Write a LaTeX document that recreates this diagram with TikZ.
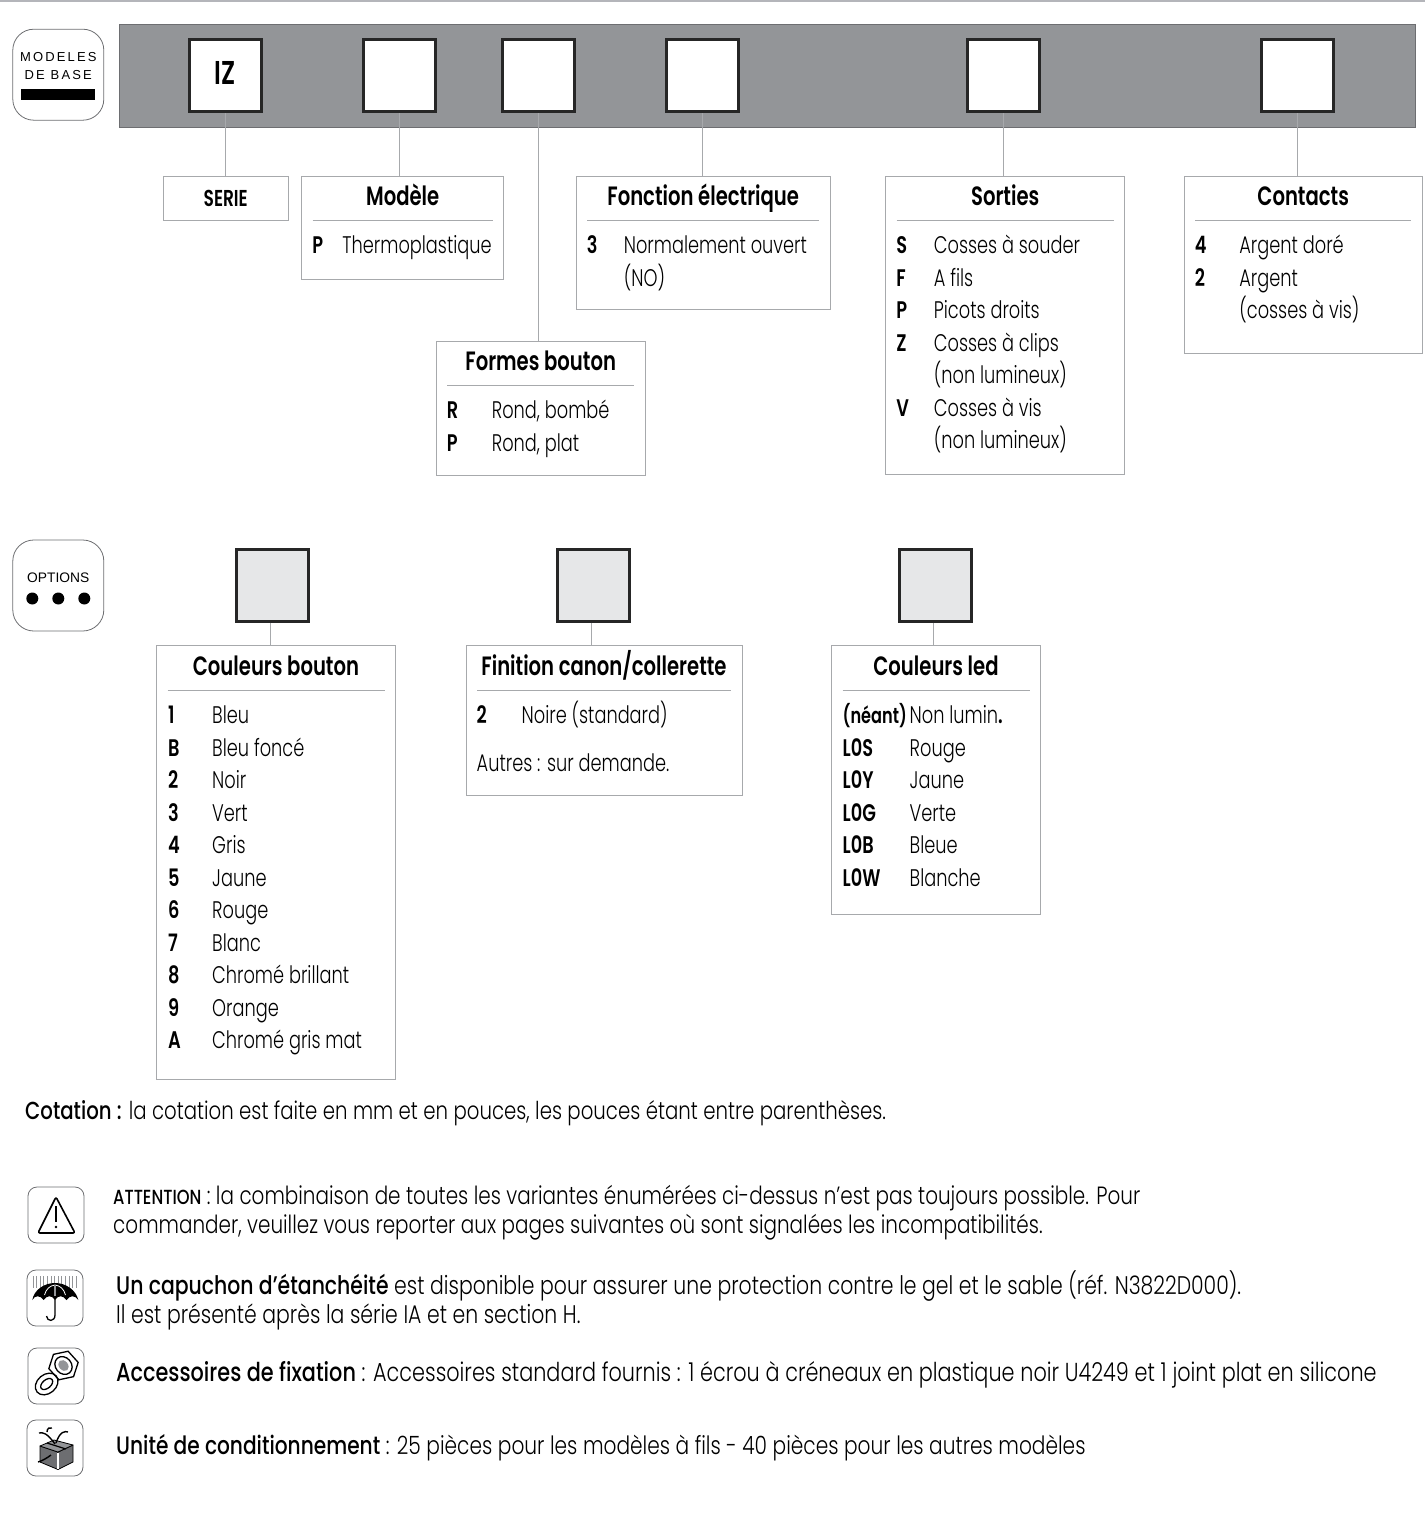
\documentclass[tikz,border=0pt]{standalone}
\usepackage{fontspec}
\usepackage{array}
\usepackage{xcolor}
\usetikzlibrary{positioning,shapes.geometric}
\setmainfont{Poppins}[UprightFont=* Light,BoldFont=* Medium,FakeStretch=0.80]
\newfontfamily\panelfont{Poppins}[UprightFont=* Light,BoldFont=* SemiBold,FakeStretch=0.74]
\newfontfamily\tagfont{Liberation Sans}
\definecolor{bandgray}{HTML}{939598}
\definecolor{bandedge}{HTML}{6D6E71}
\definecolor{optgray}{HTML}{E6E7E8}
\definecolor{wiregray}{HTML}{A7A9AC}
\definecolor{rulegray}{HTML}{B4B5BA}

\begin{document}
\begin{tikzpicture}[
    x=1pt,y=-1pt,
    node distance=64pt,
    keybox/.style={draw=black!85,line width=3pt,fill=white,minimum width=72pt,minimum height=72pt,inner sep=0pt,font=\panelfont\fontsize{33}{36}\selectfont\bfseries},
    optbox/.style={keybox,fill=optgray},
    panel/.style={draw=wiregray,line width=1pt,inner sep=0pt,outer sep=0pt},
    heading/.style={inner sep=0pt,anchor=center,text height=22pt,text depth=4pt,font=\panelfont\fontsize{26.5}{30}\selectfont\bfseries},
    rows/.style={inner sep=0pt,anchor=north west,font=\panelfont\fontsize{24}{32.5}\selectfont},
    tagbox/.style={draw=bandedge,line width=.8pt,rounded corners=21pt,minimum width=91pt,minimum height=91pt,inner sep=0pt},
    iconbox/.style={draw=bandedge,line width=.8pt,rounded corners=9pt,minimum width=56pt,minimum height=56pt,inner sep=0pt},
    note/.style={inner sep=0pt,anchor=base west,align=left},
    wire/.style={draw=wiregray,line width=1pt},
    divider/.style={draw=wiregray,line width=.8pt},
  ]
    \useasboundingbox (0,0) rectangle (1425,1515);
    \fill[rulegray] (0,0) rectangle (1425,2);

    % base models
    \node[tagbox] (basetag) at (58.3,74.7) {};
    \node[font=\tagfont\fontsize{13}{18}\selectfont,align=center,inner sep=0pt,above=-5pt of basetag.center] (basetext) {M\,O\,D\,E\,L\,E\,S\\D\,E\ \,B\,A\,S\,E};
    \node[fill=black,minimum width=74pt,minimum height=11pt,inner sep=0pt,below=14pt of basetag.center] (basebar) {};
    \node[draw=bandedge,fill=bandgray,line width=1pt,minimum width=1296pt,minimum height=103pt,inner sep=0pt] (band) at (767,75.5) {};

    \node[keybox] (seriekey) at (225.2,75.5) {\raisebox{5pt}{IZ}};
    \node[keybox,right=99pt of seriekey] (modelekey) {};
    \node[keybox,right=64pt of modelekey] (formekey) {};
    \node[keybox,right=89pt of formekey] (fonctionkey) {};
    \node[keybox,right=226pt of fonctionkey] (sortieskey) {};
    \node[keybox,right=219pt of sortieskey] (contactskey) {};

    \node[panel,minimum width=125pt,minimum height=44pt,below=63pt of seriekey,xshift=.5pt,font=\panelfont\fontsize{23}{24}\selectfont\bfseries] (serie) {SERIE};

    \node[panel,minimum width=202pt,minimum height=103pt,below=63pt of modelekey,xshift=3.5pt] (modele) {};
    \node[heading] (modelehead) at ([yshift=-20.5pt]modele.north) {Modèle};
    \draw[divider] ([shift={(11pt,-44pt)}]modele.north west) -- ([shift={(-11pt,-44pt)}]modele.north east);
    \node[rows] (modelerows) at ([shift={(10.5pt,-55pt)}]modele.north west) {\begin{tabular}{@{}p{30pt}@{}l@{}}\textbf{P} & Thermoplastique\end{tabular}};

    \node[panel,minimum width=209pt,minimum height=134pt,below=228pt of formekey,xshift=2.5pt] (forme) {};
    \node[heading] (formehead) at ([yshift=-20.5pt]forme.north) {Formes bouton};
    \draw[divider] ([shift={(11pt,-44pt)}]forme.north west) -- ([shift={(-11pt,-44pt)}]forme.north east);
    \node[rows] (formerows) at ([shift={(10.5pt,-55pt)}]forme.north west) {\begin{tabular}{@{}p{45pt}@{}l@{}}\textbf{R} & Rond, bombé\\\textbf{P} & Rond, plat\end{tabular}};

    \node[panel,minimum width=254pt,minimum height=133pt,below=63pt of fonctionkey,xshift=1pt] (fonction) {};
    \node[heading] (fonctionhead) at ([yshift=-20.5pt]fonction.north) {Fonction électrique};
    \draw[divider] ([shift={(11pt,-44pt)}]fonction.north west) -- ([shift={(-11pt,-44pt)}]fonction.north east);
    \node[rows] (fonctionrows) at ([shift={(10.5pt,-55pt)}]fonction.north west) {\begin{tabular}{@{}p{37pt}@{}l@{}}\textbf{3} & Normalement ouvert\\ & (NO)\end{tabular}};

    \node[panel,minimum width=239pt,minimum height=298pt,below=63pt of sortieskey,xshift=2pt] (sorties) {};
    \node[heading] (sortieshead) at ([yshift=-20.5pt]sorties.north) {Sorties};
    \draw[divider] ([shift={(11pt,-44pt)}]sorties.north west) -- ([shift={(-11pt,-44pt)}]sorties.north east);
    \node[rows] (sortiesrows) at ([shift={(10.5pt,-55pt)}]sorties.north west) {\begin{tabular}{@{}p{37.5pt}@{}l@{}}\textbf{S} & Cosses à souder\\\textbf{F} & A fils\\\textbf{P} & Picots droits\\\textbf{Z} & Cosses à clips\\ & (non lumineux)\\\textbf{V} & Cosses à vis\\ & (non lumineux)\end{tabular}};

    \node[panel,minimum width=238pt,minimum height=177pt,below=63pt of contactskey,xshift=6pt] (contacts) {};
    \node[heading] (contactshead) at ([yshift=-20.5pt]contacts.north) {Contacts};
    \draw[divider] ([shift={(11pt,-44pt)}]contacts.north west) -- ([shift={(-11pt,-44pt)}]contacts.north east);
    \node[rows] (contactsrows) at ([shift={(10.5pt,-55pt)}]contacts.north west) {\begin{tabular}{@{}p{44.5pt}@{}l@{}}\textbf{4} & Argent doré\\\textbf{2} & Argent\\ & (cosses à vis)\end{tabular}};

    \draw[wire] (seriekey.south) -- (seriekey.south |- serie.north);
    \draw[wire] (modelekey.south) -- (modelekey.south |- modele.north);
    \draw[wire] (formekey.south) -- (formekey.south |- forme.north);
    \draw[wire] (fonctionkey.south) -- (fonctionkey.south |- fonction.north);
    \draw[wire] (sortieskey.south) -- (sortieskey.south |- sorties.north);
    \draw[wire] (contactskey.south) -- (contactskey.south |- contacts.north);

    % options
    \node[tagbox] (opttag) at (58.3,585.5) {};
    \node[font=\tagfont\fontsize{13.8}{16}\selectfont,inner sep=0pt,above=3pt of opttag.center] (opttext) {OPTIONS};
    \foreach \dx [count=\i] in {-26,0,26}
      \node[circle,fill=black,minimum size=12pt,inner sep=0pt] (optdot\i) at ([shift={(\dx pt,-13pt)}]opttag.center) {};

    \node[optbox] (couleurkey) at (272,585.3) {};
    \node[optbox,right=246pt of couleurkey] (finitionkey) {};
    \node[optbox,right=267pt of finitionkey] (ledkey) {};

    \node[panel,minimum width=239pt,minimum height=434pt,below=23pt of couleurkey,xshift=4pt] (couleur) {};
    \node[heading] (couleurhead) at ([yshift=-20.5pt]couleur.north) {Couleurs bouton};
    \draw[divider] ([shift={(11pt,-45pt)}]couleur.north west) -- ([shift={(-11pt,-45pt)}]couleur.north east);
    \node[rows] (couleurrows) at ([shift={(11.5pt,-55pt)}]couleur.north west) {\begin{tabular}{@{}p{44pt}@{}l@{}}\textbf{1} & Bleu\\\textbf{B} & Bleu foncé\\\textbf{2} & Noir\\\textbf{3} & Vert\\\textbf{4} & Gris\\\textbf{5} & Jaune\\\textbf{6} & Rouge\\\textbf{7} & Blanc\\\textbf{8} & Chromé brillant\\\textbf{9} & Orange\\\textbf{A} & Chromé gris mat\end{tabular}};

    \node[panel,minimum width=276pt,minimum height=150pt,below=23pt of finitionkey,xshift=11pt] (finition) {};
    \node[heading] (finitionhead) at ([yshift=-20.5pt]finition.north) {Finition canon/collerette};
    \draw[divider] ([shift={(11pt,-45pt)}]finition.north west) -- ([shift={(-11pt,-45pt)}]finition.north east);
    \node[rows] (finitionrows) at ([shift={(10.5pt,-55pt)}]finition.north west) {\begin{tabular}{@{}p{45pt}@{}l@{}}\textbf{2} & Noire (standard)\\[15.5pt]\multicolumn{2}{@{}l@{}}{Autres : sur demande.}\end{tabular}};

    \node[panel,minimum width=209pt,minimum height=269pt,below=23pt of ledkey,xshift=1pt] (led) {};
    \node[heading] (ledhead) at ([yshift=-20.5pt]led.north) {Couleurs led};
    \draw[divider] ([shift={(11pt,-45pt)}]led.north west) -- ([shift={(-11pt,-45pt)}]led.north east);
    \node[rows] (ledrows) at ([shift={(11pt,-55pt)}]led.north west) {\begin{tabular}{@{}p{67pt}@{}l@{}}{\fontsize{21.8}{32.5}\selectfont\textbf{(néant)}} & Non lumin\textbf{.}\\\textbf{L0S} & Rouge\\\textbf{L0Y} & Jaune\\\textbf{L0G} & Verte\\\textbf{L0B} & Bleue\\\textbf{L0W} & Blanche\end{tabular}};

    \draw[wire] ([xshift=-1.5pt]couleurkey.south) -- ([xshift=-1.5pt]couleurkey.south |- couleur.north);
    \draw[wire] ([xshift=-1.5pt]finitionkey.south) -- ([xshift=-1.5pt]finitionkey.south |- finition.north);
    \draw[wire] ([xshift=-1.5pt]ledkey.south) -- ([xshift=-1.5pt]ledkey.south |- led.north);

    % notes
    \node[note,font=\fontsize{24.65}{29}\selectfont] (cotation) at (25,1119) {\textbf{Cotation :} la cotation est faite en mm et en pouces, les pouces étant entre parenthèses.};
    \node[note,font=\fontsize{24.95}{29}\selectfont] (attention) at (113,1233.5) {{\bfseries\fontsize{20.4}{29}\selectfont ATTENTION} : la combinaison de toutes les variantes énumérées ci-dessus n’est pas toujours possible. Pour\\commander, veuillez vous reporter aux pages suivantes où sont signalées les incompatibilités.};
    \node[note,font=\fontsize{25.5}{29}\selectfont] (capuchon) at (116,1323) {\textbf{Un capuchon d’étanchéité} est disponible pour assurer une protection contre le gel et le sable (réf. N3822D000).\\Il est présenté après la série IA et en section H.};
    \node[note,font=\fontsize{26}{29}\selectfont] (fixation) at (116,1381) {\textbf{Accessoires de fixation} : Accessoires standard fournis : 1 écrou à créneaux en plastique noir U4249 et 1 joint plat en silicone};
    \node[note,font=\fontsize{25.2}{29}\selectfont] (unite) at (116,1454) {\textbf{Unité de conditionnement} : 25 pièces pour les modèles à fils - 40 pièces pour les autres modèles};

    % icons
    \node[iconbox] (warnicon) at (56,1215) {};
    \draw[line width=1.6pt,line join=round,rounded corners=2pt] (56,1197) -- (75,1233) -- (38,1233) -- cycle;
    \draw[line width=1.4pt] (56,1206) -- (56,1222);
    \fill (56,1227) circle (1.3);

    \node[iconbox] (rainicon) at (55,1298) {};
    \foreach \x in {33,36.6,...,78}
      \draw[bandgray,line width=.7pt] (\x,1276) -- (\x,1288);
    \fill (32.3,1300) .. controls (34,1290) and (44,1283) .. (55,1283) .. controls (66,1283) and (76,1290) .. (78.3,1300)
      .. controls (75,1295) and (70,1295) .. (66.5,1300) .. controls (63,1295) and (58,1295) .. (55,1300)
      .. controls (52,1295) and (47,1295) .. (43.7,1300) .. controls (40,1295) and (35,1295) .. (32.3,1300) -- cycle;
    \draw[white,line width=.8pt] (44.5,1295) .. controls (46,1289) and (50,1285.5) .. (55,1285) .. controls (60,1285.5) and (64,1289) .. (65.5,1295);
    \draw[bandgray,line width=1.4pt] (55,1285) -- (55,1296);
    \draw[line width=1.3pt] (55,1296) -- (55,1315) .. controls (55,1322) and (47,1322) .. (46.5,1316);

    \node[iconbox] (nuticon) at (56,1376) {};
    \node[draw,regular polygon,regular polygon sides=6,rotate=12,fill=white,line width=1.3pt,minimum size=30pt,inner sep=0pt] (nut) at (63.5,1365.5) {};
    \draw[line width=1.3pt,rotate around={40:(nut.center)}] (nut.center) ellipse (8 and 9.5);
    \fill[bandgray,rotate around={40:(nut.center)}] (nut.center) ellipse (4.5 and 6);
    \draw[line width=1.3pt,rotate around={40:(46.7,1384)}] (46.7,1384) ellipse (12.5 and 9.5) (46.7,1384) ellipse (7 and 4.2);

    \node[iconbox] (gifticon) at (55,1448) {};
    \draw[fill=bandedge,line width=.8pt,line join=round] (40,1446) -- (58,1452) -- (58,1469.5) -- (40,1462) -- cycle;
    \draw[fill=bandedge,line width=.8pt,line join=round] (58,1452) -- (73,1445) -- (73,1462) -- (58,1469.5) -- cycle;
    \draw[fill=bandgray,line width=.8pt,line join=round] (40,1446) -- (54,1440) -- (73,1445) -- (58,1452) -- cycle;
    \draw[white,line width=1.5pt] (58,1452.5) -- (58,1469);
    \draw[line width=1.2pt] (47,1443) -- (66,1449);
    \draw[line width=1.4pt] (55,1444) .. controls (47,1433) and (43,1432) .. (39,1433) (47,1432) .. controls (47,1428) and (50,1427) .. (52,1428) (56,1443) .. controls (60,1431) and (65,1431) .. (68,1432) (38,1462) .. controls (42,1461) and (47,1458) .. (51,1455);
\end{tikzpicture}
\end{document}
